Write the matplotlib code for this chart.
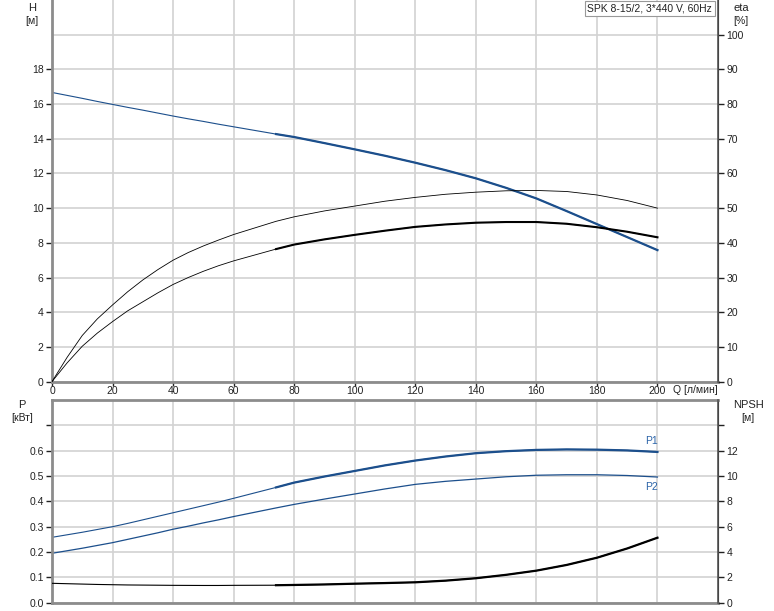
import numpy as np
import matplotlib
matplotlib.use("Agg")
import matplotlib.pyplot as plt

plt.rcParams['font.family'] = ['Liberation Sans', 'DejaVu Sans']
plt.rcParams['font.size'] = 7.5

# flow [l/min]
q = [0, 5, 10, 15, 20, 25, 30, 35, 40, 45, 50, 55, 60, 74, 80, 90, 100, 110, 120,
     130, 140, 150, 160, 170, 180, 190, 200]
# head [m]
head = [16.67, 16.5, 16.33, 16.15, 15.98, 15.81, 15.65, 15.48, 15.31, 15.15, 15.0, 14.84, 14.69,
        14.27, 14.1, 13.75, 13.39, 13.02, 12.62, 12.19, 11.72, 11.17, 10.56, 9.83, 9.08, 8.33, 7.58]
# efficiencies [%]
eta_pump = [0, 7.0, 13.3, 18.1, 22.1, 25.9, 29.3, 32.3, 35.0, 37.2, 39.1, 40.8, 42.4,
            46.2, 47.5, 49.2, 50.6, 52.0, 53.1, 54.0, 54.6, 55.0, 55.1, 54.8, 53.8, 52.2, 50.0]
eta_tot = [0, 5.4, 10.2, 14.0, 17.3, 20.4, 23.0, 25.6, 28.0, 30.0, 31.8, 33.4, 34.8,
           38.2, 39.5, 41.0, 42.3, 43.5, 44.6, 45.3, 45.8, 46.0, 46.0, 45.5, 44.5, 43.2, 41.6]
# power [kW]
p1 = [0.258, 0.268, 0.278, 0.289, 0.300, 0.313, 0.327, 0.341, 0.355, 0.369, 0.383, 0.397, 0.412,
      0.455, 0.474, 0.498, 0.520, 0.542, 0.561, 0.577, 0.590, 0.598, 0.603, 0.605, 0.604, 0.601, 0.595]
p2 = [0.195, 0.205, 0.215, 0.226, 0.237, 0.250, 0.263, 0.276, 0.290, 0.302, 0.315, 0.327, 0.340,
      0.374, 0.388, 0.409, 0.429, 0.449, 0.467, 0.479, 0.488, 0.497, 0.503, 0.505, 0.505, 0.502, 0.496]
# NPSH [m]
npsh = [1.53, 1.50, 1.47, 1.44, 1.42, 1.40, 1.39, 1.38, 1.37, 1.365, 1.36, 1.36, 1.37,
        1.38, 1.40, 1.44, 1.50, 1.55, 1.61, 1.74, 1.93, 2.20, 2.53, 2.98, 3.55, 4.28, 5.13]

DUTY_START = 74
q = np.array(q)
duty = q >= DUTY_START

BLUE = '#1c4f8c'
GRID = '#d2d2d2'
SPINE = '#8c8c8c'
TXT = '#222222'

fig = plt.figure(figsize=(7.74, 6.11), dpi=100)
L, W = 52 / 774, (718 - 52) / 774
ax1 = fig.add_axes([L, (611 - 381.6) / 611, W, 381.6 / 611])
ax2 = fig.add_axes([L, (611 - 602.7) / 611, W, 202.7 / 611])
ax1r = ax1.twinx()
ax2r = ax2.twinx()


def style(ax, axr):
    ax.set_xlim(0, 220)
    ax.set_xticks(np.arange(0, 201, 20))
    ax.grid(True, color=GRID, linewidth=1.2)
    ax.set_axisbelow(True)
    ax.spines['top'].set_visible(False)
    axr.spines['top'].set_visible(False)
    ax.spines['left'].set_color(SPINE)
    ax.spines['left'].set_linewidth(2)
    ax.spines['bottom'].set_color(SPINE)
    ax.spines['bottom'].set_linewidth(2)
    axr.spines['left'].set_visible(False)
    axr.spines['bottom'].set_visible(False)
    axr.spines['right'].set_color('#555555')
    axr.spines['right'].set_linewidth(1.2)
    ax.tick_params(colors=TXT, labelsize=7.5, length=4, width=1, pad=2)
    axr.tick_params(colors=TXT, labelsize=7.5, length=4, width=1, pad=2)


style(ax1, ax1r)
style(ax2, ax2r)

# upper panel: H and eta
ax1.set_ylim(0, 22)
ax1.set_yticks(np.arange(0, 19, 2))
ax1.set_yticks([20], minor=True)
ax1.grid(True, which='minor', axis='y', color=GRID, linewidth=1.2)
ax1.tick_params(axis='y', which='minor', length=0)
ax1r.set_ylim(0, 110)
ax1r.set_yticks(np.arange(0, 101, 10))
ax1.tick_params(axis='x', length=3, pad=0.5)

ax1.plot(q, head, color=BLUE, linewidth=0.8)
ax1.plot(q[duty], np.array(head)[duty], color=BLUE, linewidth=1.6)
ax1r.plot(q, eta_pump, color='black', linewidth=0.6)
ax1r.plot(q, eta_tot, color='black', linewidth=0.6)
ax1r.plot(q[duty], np.array(eta_tot)[duty], color='black', linewidth=1.5)

ax1.text(205, -0.5, 'Q [л/мин]', color=TXT, fontsize=7.5, va='center', ha='left', clip_on=False)

ax1r.text(218, 107.5, 'SPK 8-15/2, 3*440 V, 60Hz', fontsize=7.5, color=TXT, ha='right', va='center',
          bbox=dict(boxstyle='square,pad=0.25', fc='white', ec='#999999', lw=0.8))

fig.text(32 / 774, 1 - 8 / 611, 'H', ha='center', va='center', color=TXT, fontsize=8)
fig.text(32 / 774, 1 - 21 / 611, '[м]', ha='center', va='center', color=TXT, fontsize=7.5)
fig.text(741 / 774, 1 - 8 / 611, 'eta', ha='center', va='center', color=TXT, fontsize=8)
fig.text(741 / 774, 1 - 21 / 611, '[%]', ha='center', va='center', color=TXT, fontsize=7.5)

# lower panel: P and NPSH
ax2.set_ylim(0, 0.8)
ax2.set_yticks(np.arange(0, 0.75, 0.1))
ax2.set_yticklabels(['0.0', '0.1', '0.2', '0.3', '0.4', '0.5', '0.6', ''])
ax2.tick_params(axis='x', labelbottom=False, length=0)
ax2r.set_ylim(0, 16)
ax2r.set_yticks(np.arange(0, 15, 2))
ax2r.set_yticklabels(['0', '2', '4', '6', '8', '10', '12', ''])
ax2.spines['top'].set_visible(True)
ax2.spines['top'].set_color(SPINE)
ax2.spines['top'].set_linewidth(2)

ax2.plot(q, p1, color=BLUE, linewidth=0.8)
ax2.plot(q[duty], np.array(p1)[duty], color=BLUE, linewidth=1.6)
ax2.plot(q, p2, color=BLUE, linewidth=0.9)
ax2r.plot(q, npsh, color='black', linewidth=0.8)
ax2r.plot(q[duty], np.array(npsh)[duty], color='black', linewidth=1.6)

ax2.text(200, 0.618, 'P1', color='#2a63a8', fontsize=7.5, ha='right', va='bottom')
ax2.text(200, 0.478, 'P2', color='#2a63a8', fontsize=7.5, ha='right', va='top')

fig.text(22 / 774, 1 - 405 / 611, 'P', ha='center', va='center', color=TXT, fontsize=8)
fig.text(22 / 774, 1 - 418 / 611, '[кВт]', ha='center', va='center', color=TXT, fontsize=7.5)
fig.text(748 / 774, 1 - 405 / 611, 'NPSH', ha='center', va='center', color=TXT, fontsize=8)
fig.text(748 / 774, 1 - 418 / 611, '[м]', ha='center', va='center', color=TXT, fontsize=7.5)

fig.savefig('out.png', dpi=100)
